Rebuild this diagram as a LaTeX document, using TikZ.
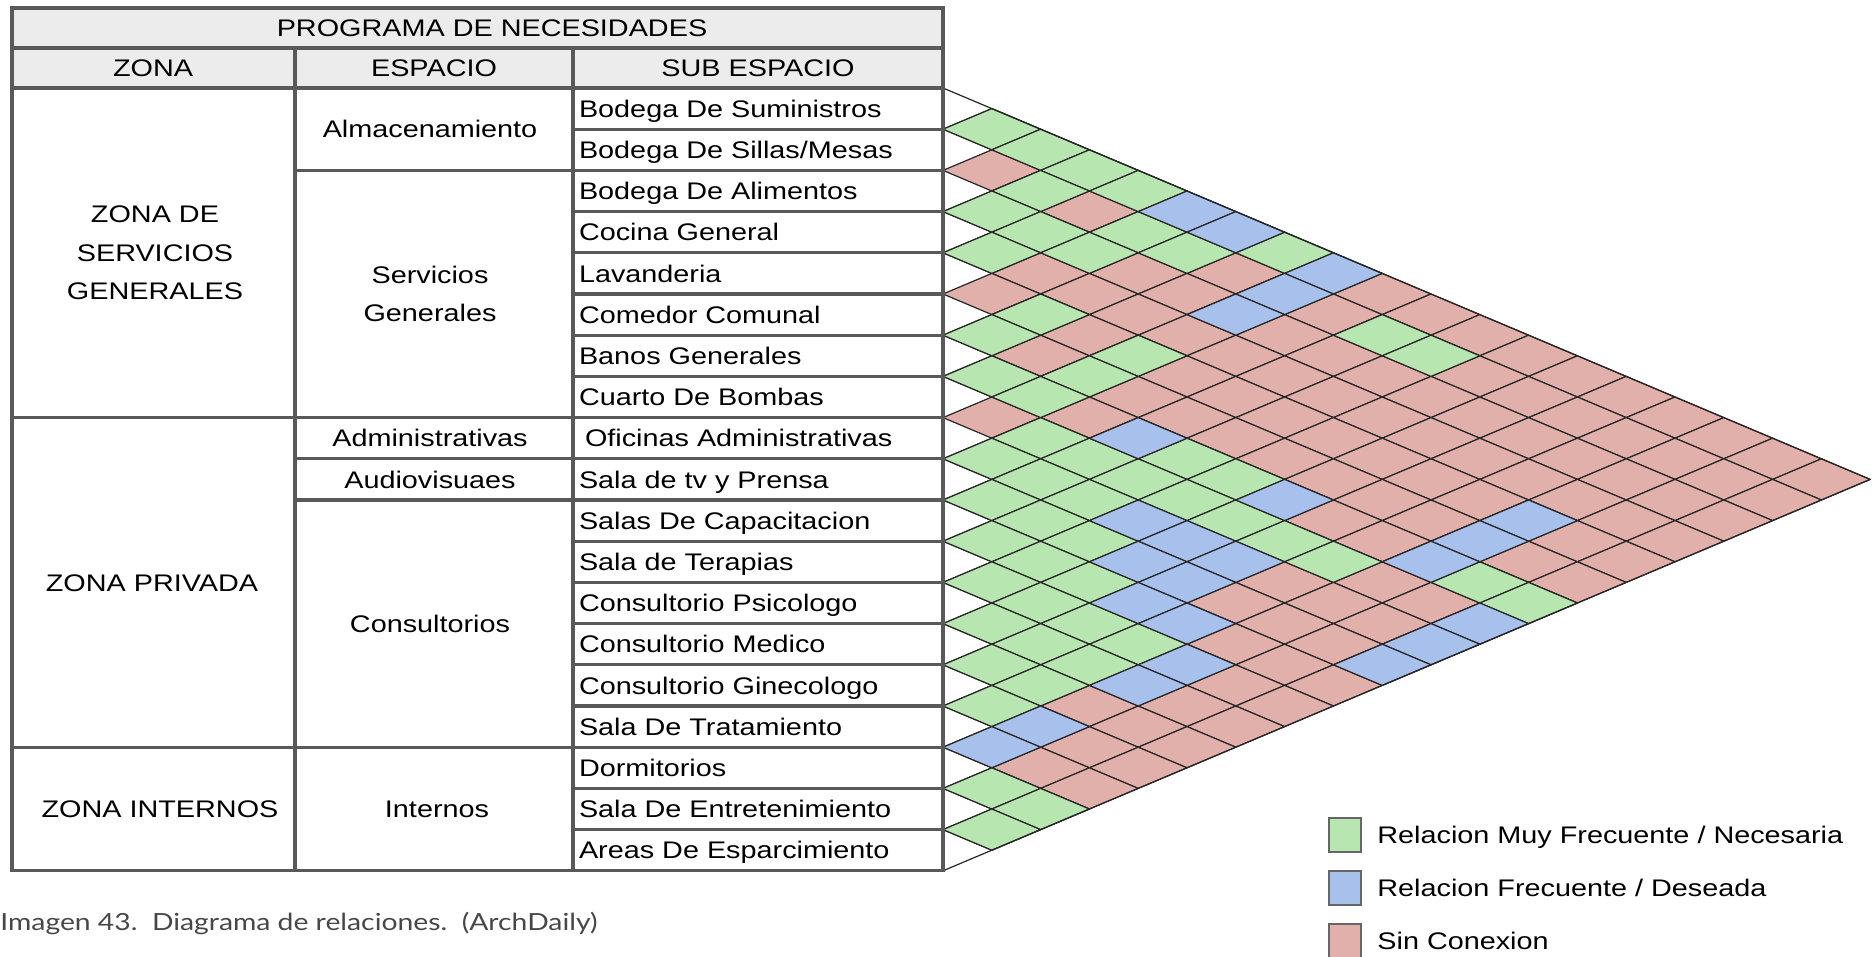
\documentclass[tikz,border=0pt]{standalone}
\usepackage{fontspec}
\setmainfont{Liberation Sans}[FakeStretch=1.2]
\newfontfamily\capfont{Lato}[FakeStretch=1.2]
\usetikzlibrary{positioning}
\definecolor{relG}{RGB}{184,230,176}
\definecolor{relB}{RGB}{168,192,236}
\definecolor{relP}{RGB}{226,176,171}
\definecolor{headfill}{RGB}{236,236,236}

\begin{document}
\begin{tikzpicture}[x=0.5pt,y=-0.5pt,node distance=20.6pt,on grid,
    every node/.style={inner sep=0pt,font=\fontsize{12}{19.4}\selectfont},
    head/.style={text height=8.6pt,text depth=0pt},
    sub/.style={text width=170pt,align=left,text height=8.6pt,text depth=0pt},
    espacio/.style={align=center,text height=8.6pt,text depth=0pt},
    zone/.style={align=center},
    tline/.style={draw=black!65,line width=1.6pt},
    cell/.style={draw=black!85,line width=0.6pt,line join=round},
    rhomb/.style={insert path={+(-48.8,0) -- +(0,-20.6) -- +(48.8,0) -- +(0,20.6) -- cycle}},
    legbox/.style={draw=black!60,line width=0.6pt,minimum width=16pt,minimum height=17pt},
    legtext/.style={text height=8.6pt,text depth=0pt}]
   \useasboundingbox (0,0) rectangle (1872,957);
   \fill[headfill] (12,8) rectangle (943,88);

   % relation matrix
   \foreach \i in {1,...,18}{
     \pgfmathtruncatemacro\jfirst{\i+1}
     \foreach \j in {\jfirst,...,19}
       \draw[cell,fill=relP] ({943+48.8*(\j-\i)},{88+20.6*(\i+\j-1)}) [rhomb];
   }
   \foreach \i/\j in {1/2,1/3,1/4,1/5,1/8,2/4,2/6,2/7,2/11,2/12,3/4,3/5,3/6,4/5,
       5/7,5/9,6/7,6/9,7/8,7/9,7/12,7/13,7/18,7/19,8/10,8/11,8/12,8/13,8/14,
       8/15,8/16,9/10,9/11,9/12,10/11,10/12,10/13,11/12,11/13,11/14,12/13,
       12/14,12/15,12/16,13/14,13/15,13/16,14/15,14/16,15/16,17/18,17/19,18/19}
     \draw[cell,fill=relG] ({943+48.8*(\j-\i)},{88+20.6*(\i+\j-1)}) [rhomb];
   \foreach \i/\j in {1/6,1/7,1/9,2/9,3/9,5/17,6/17,7/11,7/14,7/17,8/19,9/13,
       9/14,9/15,9/19,10/14,10/15,10/19,11/15,11/16,12/17,13/17,15/17,16/17}
     \draw[cell,fill=relB] ({943+48.8*(\j-\i)},{88+20.6*(\i+\j-1)}) [rhomb];
   \coordinate (top) at (943,88);
   \coordinate (bot) at (943,870.8);
   \coordinate (apex) at (1870.2,479.4);
   \draw[cell] (top) -- (apex) -- (bot);

   % table
   \draw[tline] (12,8) rectangle (943,870.8);
   \draw[tline] (12,48) -- (943,48);
   \draw[tline] (12,88) -- (943,88);
   \draw[tline] (295,48) -- (295,870.8);
   \draw[tline] (573,48) -- (573,870.8);
   \foreach \r in {1,...,18}
     \draw[tline] (573,{88+41.2*\r}) -- (943,{88+41.2*\r});
   \foreach \r in {2,8,9,10,16}
     \draw[tline] (295,{88+41.2*\r}) -- (573,{88+41.2*\r});
   \foreach \r in {8,16}
     \draw[tline] (12,{88+41.2*\r}) -- (295,{88+41.2*\r});

   \node[head] (prog) at (492,28) {PROGRAMA DE NECESIDADES};
   \node[head] (zona) at (153,68) {ZONA};
   \node[head] (esp)  at (434,68) {ESPACIO};
   \node[head] (subesp) at (758,68) {SUB ESPACIO};

   \node[zone] (zsg) at (155,252.8) {ZONA DE\\SERVICIOS\\GENERALES};
   \node[head] (zpr) at (152,582.4) {ZONA PRIVADA};
   \node[head] (zin) at (160,809.2) {ZONA INTERNOS};

   \node[espacio] (alm) at (430,129.2) {Almacenamiento};
   \node[zone]    (srv) at (430,294)   {Servicios\\Generales};
   \node[espacio] (adm) at (430,438.2) {Administrativas};
   \node[espacio] (aud) at (430,479.4) {Audiovisuaes};
   \node[espacio] (con) at (430,623.6) {Consultorios};
   \node[espacio] (int) at (437,809.2) {Internos};

   \node[sub] (s1) at (749,108.6) {Bodega De Suministros};
   \node[sub] (s2)  [below=of s1]  {Bodega De Sillas/Mesas};
   \node[sub] (s3)  [below=of s2]  {Bodega De Alimentos};
   \node[sub] (s4)  [below=of s3]  {Cocina General};
   \node[sub] (s5)  [below=of s4]  {Lavanderia};
   \node[sub] (s6)  [below=of s5]  {Comedor Comunal};
   \node[sub] (s7)  [below=of s6]  {Banos Generales};
   \node[sub] (s8)  [below=of s7]  {Cuarto De Bombas};
   \node[sub] (s9)  [below=of s8]  {\hspace*{3pt}Oficinas Administrativas};
   \node[sub] (s10) [below=of s9]  {Sala de tv y Prensa};
   \node[sub] (s11) [below=of s10] {Salas De Capacitacion};
   \node[sub] (s12) [below=of s11] {Sala de Terapias};
   \node[sub] (s13) [below=of s12] {Consultorio Psicologo};
   \node[sub] (s14) [below=of s13] {Consultorio Medico};
   \node[sub] (s15) [below=of s14] {Consultorio Ginecologo};
   \node[sub] (s16) [below=of s15] {Sala De Tratamiento};
   \node[sub] (s17) [below=of s16] {Dormitorios};
   \node[sub] (s18) [below=of s17] {Sala De Entretenimiento};
   \node[sub] (s19) [below=of s18] {Areas De Esparcimiento};

   % legend
   \node[legbox,fill=relG] (kG) at (1345,835) {};
   \node[legbox,fill=relB] (kB) [below=26.5pt of kG] {};
   \node[legbox,fill=relP] (kP) [below=26.5pt of kB] {};
   \node[legtext] (kGt) [right=16pt of kG,anchor=west] {Relacion Muy Frecuente / Necesaria};
   \node[legtext] (kBt) [right=16pt of kB,anchor=west] {Relacion Frecuente / Deseada};
   \node[legtext] (kPt) [right=16pt of kP,anchor=west] {Sin Conexion};

   \node[anchor=west,font=\capfont\fontsize{11.8}{14}\selectfont,text=black!72] (cap)
      at (0,923) {Imagen 43.\ \ Diagrama de relaciones.\ \ (ArchDaily)};
\end{tikzpicture}
\end{document}
